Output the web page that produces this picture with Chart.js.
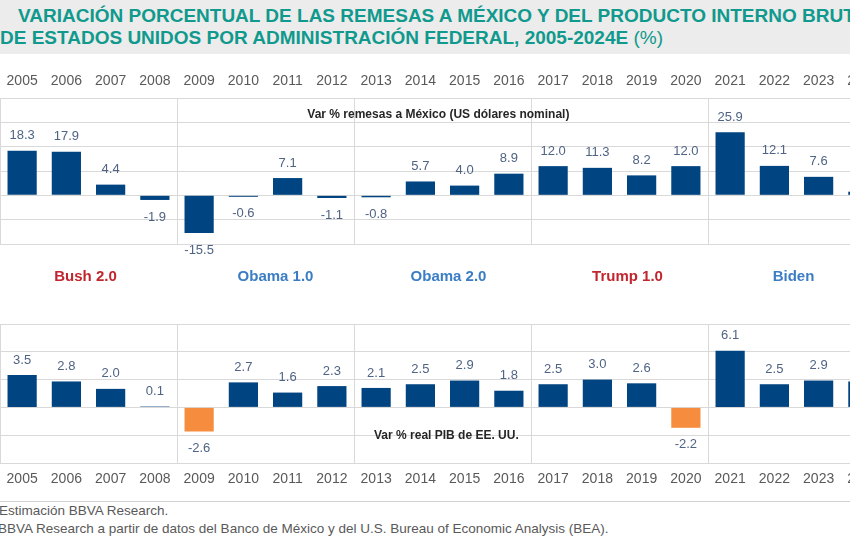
<!DOCTYPE html>
<html>
<head>
<meta charset="utf-8">
<script src="https://cdn.jsdelivr.net/npm/chart.js@4/dist/chart.umd.min.js"></script>
<style>
  html, body { margin:0; padding:0; background:#ffffff; }
  body { width:850px; height:550px; overflow:hidden; position:relative; }
  #titleband { position:absolute; left:0; top:0; width:850px; height:54px; background:#ececec; }
  .tline { position:absolute; white-space:nowrap; color:#10998d; font-family:"Liberation Sans Narrow","Liberation Sans",Arial,sans-serif; font-weight:bold; font-size:19px; }
  .tline .n { font-weight:normal; }
  #wrap1 { position:absolute; left:0; top:60px; width:885px; height:240px; }
  #wrap2 { position:absolute; left:0; top:310px; width:885px; height:190px; }
  #sep { position:absolute; left:0; top:501px; width:850px; height:0; border-top:1px solid #d0d0d0; }
  .foot { position:absolute; white-space:nowrap; color:#595959; font-family:"Liberation Sans Narrow","Liberation Sans",Arial,sans-serif; font-size:13.5px; }
</style>
</head>
<body>
<div id="titleband"></div>
<div class="tline" style="left:18px; top:5px;">VARIACIÓN PORCENTUAL DE LAS REMESAS A MÉXICO Y DEL PRODUCTO INTERNO BRUTO</div>
<div class="tline" style="left:0px; top:27px;">DE ESTADOS UNIDOS POR ADMINISTRACIÓN FEDERAL, 2005-2024E <span class="n">(%)</span></div>
<div id="wrap1"><canvas id="c1" width="885" height="240"></canvas></div>
<div id="wrap2"><canvas id="c2" width="885" height="190"></canvas></div>
<div id="sep"></div>
<div class="foot" style="left:-1px; top:503px;">Estimación BBVA Research.</div>
<div class="foot" style="left:-2px; top:521px;">BBVA Research a partir de datos del Banco de México y del U.S. Bureau of Economic Analysis (BEA).</div>
<script>
// ---- data ----
const years = ['2005','2006','2007','2008','2009','2010','2011','2012','2013','2014','2015','2016','2017','2018','2019','2020','2021','2022','2023','2024'];
const remesas = [18.3, 17.9, 4.4, -1.9, -15.5, -0.6, 7.1, -1.1, -0.8, 5.7, 4.0, 8.9, 12.0, 11.3, 8.2, 12.0, 25.9, 12.1, 7.6, 1.5];
const pib = [3.5, 2.8, 2.0, 0.1, -2.6, 2.7, 1.6, 2.3, 2.1, 2.5, 2.9, 1.8, 2.5, 3.0, 2.6, -2.2, 6.1, 2.5, 2.9, 2.8];
const administraciones = ['Bush 2.0', 'Obama 1.0', 'Obama 2.0', 'Trump 1.0', 'Biden'];
const remesasTitle = 'Var % remesas a México (US dólares nominal)';
const pibTitle = 'Var % real PIB de EE. UU.';

// ---- styles ----
const NAVY = '#004481';
const ORANGE = '#f68c3e';
const GRID = '#d9d9d9';
const LABEL = '#4f6384';
const YEARC = '#595959';
const adminColors = ['#c0262d', '#3b7dc4', '#3b7dc4', '#c0262d', '#3b7dc4'];
const adminDx = [-3, 10, 6, 8, -3];
const NARROW = '"Liberation Sans Narrow","Liberation Sans",Arial,sans-serif';
const SANS = '"Liberation Sans",Arial,sans-serif';

function boundaries(chart) {
  const x = chart.scales.x;
  const out = [];
  for (let i = 4; i < years.length; i += 4) {
    out.push((x.getPixelForValue(i - 1) + x.getPixelForValue(i)) / 2);
  }
  return out;
}

const decorPlugin = {
  id: 'decor',
  beforeDatasetsDraw(chart, args, opts) {
    const ctx = chart.ctx, a = chart.chartArea;
    ctx.save();
    ctx.strokeStyle = GRID; ctx.lineWidth = 1;
    boundaries(chart).forEach(b => {
      const xx = Math.round(b) + 0.5;
      ctx.beginPath(); ctx.moveTo(xx, a.top); ctx.lineTo(xx, a.bottom); ctx.stroke();
    });
    ctx.restore();
  },
  afterDatasetsDraw(chart, args, opts) {
    const ctx = chart.ctx, a = chart.chartArea;
    const meta = chart.getDatasetMeta(0);
    const data = chart.data.datasets[0].data;
    ctx.save();
    ctx.font = '13px ' + NARROW;
    ctx.fillStyle = LABEL;
    ctx.textAlign = 'center'; ctx.textBaseline = 'middle';
    meta.data.forEach((bar, i) => {
      const v = data[i];
      const y = v >= 0 ? bar.y - 15 : bar.y + 17;
      ctx.fillText(v.toFixed(1), bar.x, y);
    });
    // panel title
    ctx.font = 'bold 12px ' + SANS;
    ctx.fillStyle = '#262626';
    const xs = chart.scales.x;
    ctx.fillText(opts.title, xs.getPixelForValue(opts.titleAt) + opts.titleDx, chart.scales.y.getPixelForValue(opts.titleY));
    // administration labels
    if (opts.admins) {
      ctx.font = 'bold 15px ' + SANS;
      administraciones.forEach((name, g) => {
        const cx = (xs.getPixelForValue(g * 4 + 1) + xs.getPixelForValue(g * 4 + 2)) / 2;
        ctx.fillStyle = adminColors[g];
        ctx.fillText(name, cx + adminDx[g], a.bottom + 33);
      });
    }
    ctx.restore();
  }
};

function makeChart(id, values, yMin, yMax, step, pos, axisH, tickPad, padding, decorOpts) {
  return new Chart(document.getElementById(id), {
    type: 'bar',
    data: {
      labels: years,
      datasets: [{
        data: values,
        backgroundColor: ctx => (id === 'c2' && ctx.raw < 0) ? ORANGE : NAVY,
        categoryPercentage: 1.0,
        barPercentage: 0.66,
        borderWidth: 0
      }]
    },
    options: {
      responsive: false,
      animation: false,
      layout: { padding: padding },
      plugins: { legend: { display: false }, tooltip: { enabled: false }, decor: decorOpts },
      scales: {
        x: {
          position: pos,
          grid: { display: false },
          border: { display: false },
          ticks: { color: YEARC, font: { family: NARROW, size: 14 }, padding: tickPad, maxRotation: 0, autoSkip: false },
          afterFit: s => { s.height = axisH; }
        },
        y: {
          min: yMin, max: yMax,
          ticks: { display: false, stepSize: step },
          grid: { color: GRID, drawTicks: false, lineWidth: 1 },
          border: { display: true, color: GRID }
        }
      }
    },
    plugins: [decorPlugin]
  });
}

makeChart('c1', remesas, -20, 40, 10, 'top', 38, 0, { top: 0, bottom: 56, left: 0, right: 0 },
  { title: remesasTitle, titleAt: 9, titleDx: 18, titleY: 33, admins: true });
makeChart('c2', pib, -6, 9, 3, 'bottom', 37, 0, { top: 14, bottom: 0, left: 0, right: 0 },
  { title: pibTitle, titleAt: 9, titleDx: 26, titleY: -3, admins: false });
</script>
</body>
</html>
